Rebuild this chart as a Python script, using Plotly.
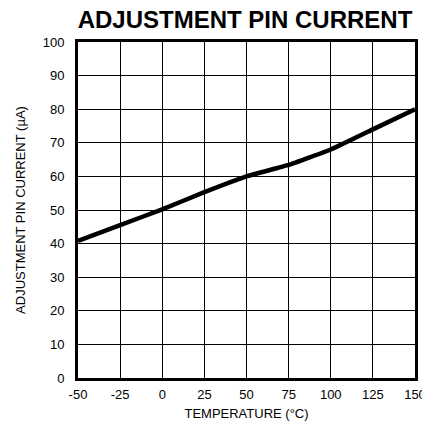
import plotly.graph_objects as go

temperature = [-50, -25, 0, 25, 50, 75, 100, 125, 150]
current_ua = [40.8, 45.5, 50.2, 55.3, 60.0, 63.4, 68.0, 74.0, 80.0]

x_ticks = [-50, -25, 0, 25, 50, 75, 100, 125, 150]
y_ticks = [0, 10, 20, 30, 40, 50, 60, 70, 80, 90, 100]

FONT = "Liberation Sans, Arial, sans-serif"

fig = go.Figure()
fig.add_trace(go.Scatter(
    x=temperature, y=current_ua, mode="lines",
    line=dict(color="black", width=4.5, shape="spline", smoothing=0.3),
    showlegend=False, hoverinfo="skip",
))

fig.update_layout(
    width=422, height=428,
    margin=dict(l=70, r=15, t=34, b=58),
    paper_bgcolor="white", plot_bgcolor="white",
    font=dict(family=FONT, color="black", size=13),
    title=dict(
        text="<b>ADJUSTMENT PIN CURRENT</b>",
        font=dict(family=FONT, size=24, color="black"),
        x=237 / 422, xanchor="center", y=1 - 3 / 428, yanchor="top",
    ),
)

fig.update_xaxes(
    range=[-50, 150], tickvals=x_ticks, ticktext=[str(v) for v in x_ticks],
    showgrid=True, gridcolor="black", gridwidth=1.3,
    showline=True, linecolor="black", linewidth=3, mirror=True,
    zeroline=False, ticks="", ticklabelstandoff=2, automargin=False,
    tickfont=dict(size=13),
    title=dict(text="TEMPERATURE (°C)", font=dict(size=13), standoff=9),
)
fig.update_yaxes(
    range=[0, 100], tickvals=y_ticks, ticktext=[str(v) for v in y_ticks],
    showgrid=True, gridcolor="black", gridwidth=1.3,
    showline=True, linecolor="black", linewidth=3, mirror=True,
    zeroline=False, ticks="", ticklabelstandoff=8, automargin=False,
    tickfont=dict(size=13),
    title=dict(text="ADJUSTMENT PIN CURRENT (µA)", font=dict(size=13), standoff=15),
)

fig.write_html("out.html")
